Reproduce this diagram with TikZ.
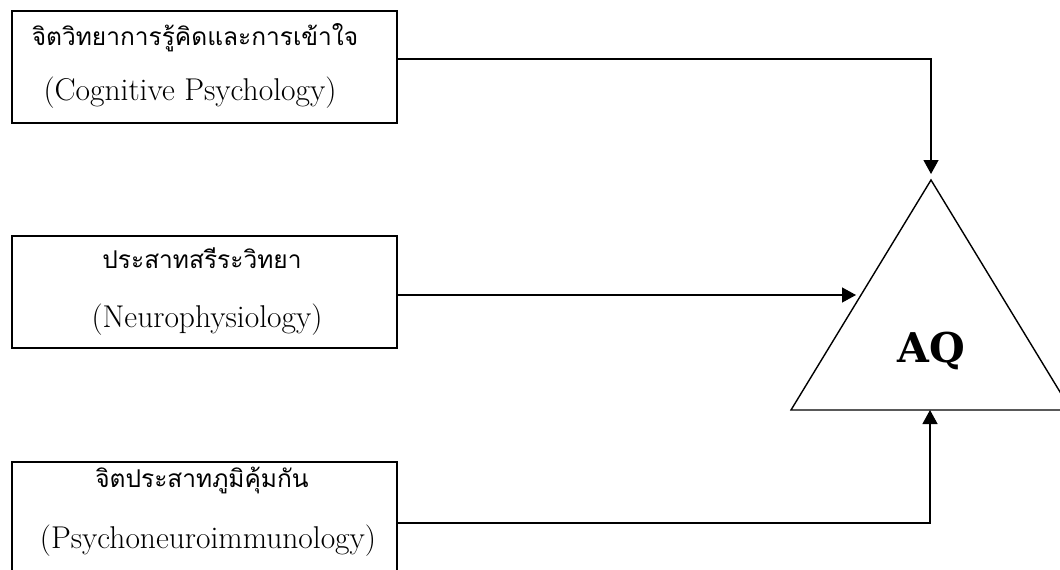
\documentclass[tikz,border=0pt]{standalone}
\usepackage{fontspec}
\usetikzlibrary{arrows.meta,calc}
\newfontfamily\thaifont[Script=Thai]{Loma}
\newfontfamily\aqfont{DejaVu Serif}
\begin{document}
\begin{tikzpicture}[x=1pt,y=-1pt,
  box/.style={draw,rectangle,line width=2pt,minimum width=385pt,minimum height=112pt,inner sep=0pt},
  conn/.style={line width=1.3pt,-{Triangle[length=14pt,width=15pt]}},
  tri/.style={draw,line width=1.4pt,line join=miter},
  th/.style={font=\thaifont\fontsize{24.5}{28}\selectfont,inner sep=0pt,anchor=base},
  en/.style={font=\fontsize{31.5}{36}\selectfont,inner sep=0pt,anchor=base}]
\useasboundingbox (0,0) rectangle (1060,570);
\fill[white] (0,0) rectangle (1060,570);
% boxes
\node[box] (b1) at (204.5,66.5) {};
\node[box] (b2) at (204,292) {};
\node[box,minimum height=122pt] (b3) at (204,523) {};
% texts
\node[th] (t1a) at (195,45) {จิตวิทยาการรู้คิดและการเข้าใจ};
\node[en] (t1b) at (190,100) {(Cognitive Psychology)};
\node[th] (t2a) at (202,268) {ประสาทสรีระวิทยา};
\node[en] (t2b) at (207,327) {(Neurophysiology)};
\node[th] (t3a) at (202,487) {จิตประสาทภูมิคุ้มกัน};
\node[en] (t3b) at (208,548) {(Psychoneuroimmunology)};
% triangle
\coordinate (apex) at (931,180);
\coordinate (bl) at (791,410);
\coordinate (br) at (1071,410);
\draw[tri] (apex) -- (bl) -- (br) -- cycle;
\node[font=\aqfont\bfseries\fontsize{41}{45}\selectfont,inner sep=0pt,anchor=base] (aq) at (931,362) {AQ};
% connector ends
\coordinate (e1) at (931,174);
\coordinate (e2) at (856,295);
\coordinate (e3) at (930,410);
\draw[conn] ($(b1.east)+(0,-7.5)$) -| (e1);
\draw[conn] ($(b2.east)+(0,3)$) -- (e2);
\draw[conn] (b3.east) -| (e3);
\end{tikzpicture}
\end{document}
